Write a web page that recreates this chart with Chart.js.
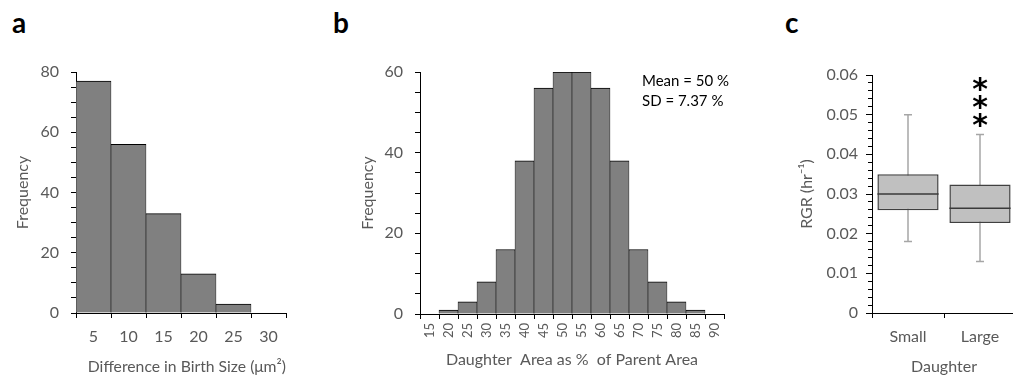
<!DOCTYPE html>
<html>
<head>
<meta charset="utf-8">
<script src="https://cdn.jsdelivr.net/npm/chart.js@4/dist/chart.umd.min.js"></script>
<style>
html,body{margin:0;padding:0;background:#fff;width:1013px;height:379px;overflow:hidden;position:relative}
.panel{position:absolute;top:0;height:379px}
.tag{position:absolute;font:bold 28px Lato;color:#000;line-height:normal}
.note{position:absolute;font:15px Lato;color:#000;line-height:20px;white-space:pre}
</style>
</head>
<body>

<div class="tag" style="left:12px;top:5px">a</div>
<div class="tag" style="left:333px;top:5px">b</div>
<div class="tag" style="left:785px;top:5px">c</div>

<div class="panel" style="left:0;width:300px"><canvas id="chartA"></canvas></div>
<div class="panel" style="left:320px;width:420px"><canvas id="chartB"></canvas></div>
<div class="panel" style="left:760px;width:270px"><canvas id="chartC"></canvas></div>

<div class="note" style="left:642px;top:70px">Mean = 50 %
SD = 7.37 %</div>

<script>
// a: difference in birth size
const birthBins=['5','10','15','20','25','30']
const birthFreq=[77,56,33,13,3,0]

// b: daughter area as % of parent
const areaBins=['15','20','25','30','35','40','45','50','55','60','65','70','75','80','85','90']
const areaFreq=[0,1,3,8,16,38,56,60,60,56,38,16,8,3,1,0]

// c: RGR box plot
const rgrGroups=['Small','Large']
const rgrMin=[0.018,0.013]
const rgrQ1=[0.0259,0.0227]
const rgrMedian=[0.030,0.0264]
const rgrQ3=[0.035,0.0324]
const rgrMax=[0.050,0.045]
const rgrStars=['','***']

const grey='#595959'
Chart.defaults.font.family='Lato'
Chart.defaults.font.size=16
Chart.defaults.color=grey
Chart.defaults.animation=false

const noPlugins={legend:{display:false},tooltip:{enabled:false}}

function histBar(values){
return {
data:values,
backgroundColor:'#808080',
borderColor:'#000',
borderWidth:{top:1,left:0.6,right:0.6,bottom:0},
borderSkipped:false,
barPercentage:1,
categoryPercentage:1
}
}

function xAxis(title,height,pad,titlePad){
return {
grid:{offset:true,drawOnChartArea:false,tickLength:5,color:'#000'},
border:{color:'#000'},
ticks:{padding:pad,autoSkip:false,color:grey},
title:{display:true,text:title,color:grey,padding:{top:0,bottom:titlePad}},
afterFit:s=>{s.height=height}
}
}

function yAxis(max,step,major,title,width,titlePad){
return {
min:0,max:max,
grid:{drawOnChartArea:false,tickLength:5,color:'#000'},
border:{color:'#000'},
ticks:{stepSize:step,autoSkip:false,padding:12,color:grey,
callback:v=>Math.round(v)%major===0?v:''},
title:{display:true,text:title,color:grey,padding:{top:titlePad,bottom:0}},
afterFit:s=>{s.width=width}
}
}

/* a */
new Chart(document.getElementById('chartA'),{
type:'bar',
data:{labels:birthBins,datasets:[histBar(birthFreq)]},
options:{
responsive:true,maintainAspectRatio:false,
layout:{padding:{top:72,right:14,left:0,bottom:0}},
plugins:noPlugins,
scales:{
x:xAxis('\u2003Difference in Birth Size (\u03bcm\u00b2)',66,9,2.4),
y:yAxis(80,5,20,'Frequency',76,13.4)
}
}
})

/* b */
const xb=xAxis('Daughter  Area as %  of Parent Area',65,4,9.4)
xb.ticks.minRotation=90
xb.ticks.maxRotation=90
xb.ticks.font={size:13}
new Chart(document.getElementById('chartB'),{
type:'bar',
data:{labels:areaBins,datasets:[histBar(areaFreq)]},
options:{
responsive:true,maintainAspectRatio:false,
layout:{padding:{top:72,right:16,left:0,bottom:0}},
plugins:noPlugins,
scales:{
x:xb,
y:yAxis(60,5,20,'Frequency',100,38.4)
}
}
})

/* c */
const boxPlugin={
id:'boxWhiskers',
beforeDatasetsDraw(chart){
const {ctx,scales:{y}}=chart
const bars=chart.getDatasetMeta(0).data
ctx.save()
ctx.strokeStyle='#a6a6a6'
ctx.lineWidth=1.5
rgrGroups.forEach((g,i)=>{
const cx=bars[i].x
const top=y.getPixelForValue(rgrMax[i])
const bot=y.getPixelForValue(rgrMin[i])
ctx.beginPath()
ctx.moveTo(cx,top);ctx.lineTo(cx,bot)
ctx.moveTo(cx-4,top);ctx.lineTo(cx+4,top)
ctx.moveTo(cx-4,bot);ctx.lineTo(cx+4,bot)
ctx.stroke()
})
ctx.restore()
},
afterDatasetsDraw(chart){
const {ctx,scales:{y}}=chart
const bars=chart.getDatasetMeta(0).data
ctx.save()
ctx.strokeStyle='#3a3a3a'
ctx.lineWidth=1.5
rgrGroups.forEach((g,i)=>{
const b=bars[i]
const my=y.getPixelForValue(rgrMedian[i])
ctx.beginPath()
ctx.moveTo(b.x-b.width/2,my);ctx.lineTo(b.x+b.width/2,my)
ctx.stroke()
})
// significance stars above the whisker
ctx.fillStyle='#000'
ctx.font='bold 30px "DejaVu Sans"'
ctx.textAlign='center'
ctx.textBaseline='middle'
rgrGroups.forEach((g,i)=>{
const stars=rgrStars[i].split('')
const top=y.getPixelForValue(rgrMax[i])
stars.forEach((s,k)=>{
ctx.fillText(s,bars[i].x,top-7-(stars.length-1-k)*18)
})
})
ctx.restore()
}
}

const yc=yAxis(0.06,0.01,1,'RGR (hr\u207b\u00b9)',112,37.4)
yc.weight=1
yc.grid.tickLength=6
yc.ticks.padding=8
yc.ticks.callback=v=>v===0?'0':v.toFixed(2)

new Chart(document.getElementById('chartC'),{
type:'bar',
data:{labels:rgrGroups,datasets:[{
data:rgrQ1.map((q,i)=>[q,rgrQ3[i]]),
backgroundColor:'#c0c0c0',
borderColor:'#404040',
borderWidth:1.5,
borderSkipped:false,
barPercentage:0.85,
categoryPercentage:1
}]},
options:{
responsive:true,maintainAspectRatio:false,
layout:{padding:{top:75,right:14,left:0,bottom:0}},
plugins:noPlugins,
scales:{
x:xAxis('Daughter',66,9,2.4),
y:yc,
yMinor:{
position:'left',weight:0,min:0,max:0.06,
grid:{drawOnChartArea:false,tickLength:4,color:'#000'},
border:{display:false},
ticks:{stepSize:0.002,display:false,autoSkip:false},
afterFit:s=>{s.width=0}
}
}
},
plugins:[boxPlugin]
})
</script>
</body>
</html>
